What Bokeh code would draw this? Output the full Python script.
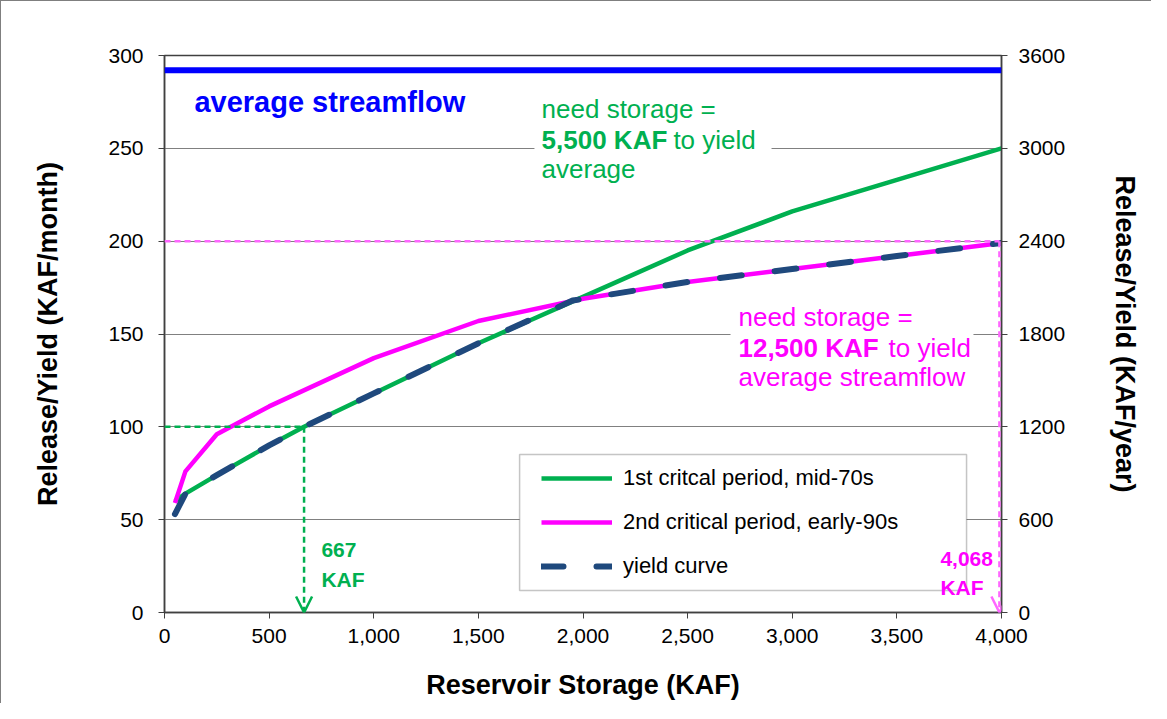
from bokeh.plotting import figure
from bokeh.models import (Range1d, LinearAxis, FixedTicker, NumeralTickFormatter, Span,
                          Arrow, OpenHead, Label, BoxAnnotation, Legend, LegendItem)
from bokeh.embed import file_html
from bokeh.resources import INLINE

# ---------------- data ----------------
storage_1st = [50, 100, 250, 500, 667, 1000, 1500, 2000, 2500, 3000, 3500, 4000]
release_1st = [60, 64, 74, 90, 100, 118, 145, 170, 195, 216, 233, 250]

storage_2nd = [50, 100, 250, 500, 1000, 1500, 2000, 2500, 3000, 3500, 4000]
release_2nd = [59, 76, 96, 111, 137, 157, 169, 178, 185, 192, 199]

storage_yield = [50, 100, 250, 500, 667, 1000, 1500, 1950, 2500, 3000, 3500, 4000]
release_yield = [53, 64, 74, 90, 100, 118, 145, 168, 178, 185, 192, 199]

average_streamflow = 292          # KAF/month
green_storage = 667               # KAF needed, 1st critical period
green_yield = 100
magenta_storage_pos = 3990        # drawn position of the 4,068 KAF guide (at the right edge)
magenta_yield = 200

x_ticks = [0, 500, 1000, 1500, 2000, 2500, 3000, 3500, 4000]
y_ticks = [0, 50, 100, 150, 200, 250, 300]
y2_ticks = [0, 600, 1200, 1800, 2400, 3000, 3600]

GREEN = "#00B050"
MAGENTA = "#FF00FF"
PINK = "#FF66FF"
NAVY = "#1F497D"
BLUE = "#0000FF"
FONT = "Liberation Sans"

p = figure(width=1151, height=703, output_backend="svg", toolbar_location=None,
           x_range=Range1d(0, 4000), y_range=Range1d(0, 300),
           min_border_left=163, min_border_right=151, min_border_top=54, min_border_bottom=92)
p.styles = {"border-left": "1px solid #7f7f7f", "border-top": "1px solid #7f7f7f"}
p.background_fill_color = "white"
p.border_fill_color = "white"
p.outline_line_color = "#404040"
p.outline_line_width = 1.5

p.xaxis.ticker = FixedTicker(ticks=x_ticks)
p.xaxis.formatter = NumeralTickFormatter(format="0,0")
p.xaxis.axis_label = "Reservoir Storage (KAF)"
ax_l = p.yaxis[0]
ax_l.ticker = FixedTicker(ticks=y_ticks)
ax_l.axis_label = "Release/Yield (KAF/month)"

p.extra_y_ranges = {"yr": Range1d(0, 3600)}
ax_r = LinearAxis(y_range_name="yr", ticker=FixedTicker(ticks=y2_ticks),
                  axis_label="Release/Yield (KAF/year)")
p.add_layout(ax_r, "right")

for ax in p.axis:
    ax.axis_line_color = "#404040"
    ax.axis_line_width = 1.5
    ax.major_tick_line_color = "#404040"
    ax.major_tick_out = 6
    ax.major_tick_in = 0
    ax.minor_tick_line_color = None
    ax.major_label_text_font = FONT
    ax.major_label_text_font_size = "21px"
    ax.major_label_text_color = "black"
    ax.major_label_standoff = 15
    ax.axis_label_text_font = FONT
    ax.axis_label_text_font_size = "27px"
    ax.axis_label_text_font_style = "bold"
    ax.axis_label_text_color = "black"
p.xaxis.major_label_standoff = 10
p.xaxis.axis_label_standoff = 24
ax_r.major_label_standoff = 11
ax_l.axis_label_standoff = 42
ax_r.axis_label_standoff = 42

p.xgrid.visible = False
p.ygrid.ticker = FixedTicker(ticks=y_ticks[1:])
p.ygrid.grid_line_color = "#808080"
p.ygrid.grid_line_width = 1

# average streamflow
p.add_layout(Span(location=average_streamflow, dimension="width", line_color=BLUE, line_width=6))

# curves
g = p.line(storage_1st, release_1st, line_color=GREEN, line_width=4.5, line_join="round")
m = p.line(storage_2nd, release_2nd, line_color=MAGENTA, line_width=4.5, line_join="round")
y = p.line(storage_yield, release_yield, line_color=NAVY, line_width=6, line_dash="22 33",
           line_cap="round", line_join="round")

# guides
p.add_layout(Arrow(end=None, x_start=0, y_start=green_yield, x_end=green_storage, y_end=green_yield,
                   line_color=GREEN, line_width=2.5, line_dash="6 4"))
p.add_layout(Arrow(end=OpenHead(size=16, line_color=GREEN, line_width=2.5),
                   x_start=green_storage, y_start=green_yield, x_end=green_storage, y_end=0,
                   line_color=GREEN, line_width=2.5, line_dash="6 4"))
p.add_layout(Arrow(end=None, x_start=0, y_start=magenta_yield, x_end=magenta_storage_pos, y_end=magenta_yield,
                   line_color=PINK, line_width=2.5, line_dash="6 4"))
p.add_layout(Arrow(end=OpenHead(size=16, line_color=PINK, line_width=2.5),
                   x_start=magenta_storage_pos, y_start=magenta_yield, x_end=magenta_storage_pos, y_end=0,
                   line_color=PINK, line_width=2.5, line_dash="6 4"))

# white boxes behind annotations
p.add_layout(BoxAnnotation(left=1768, right=2901, bottom=229, top=279.5,
                           fill_color="white", fill_alpha=1, line_color=None))
p.add_layout(BoxAnnotation(left=2705, right=3866, bottom=118, top=168.5,
                           fill_color="white", fill_alpha=1, line_color=None))
p.add_layout(BoxAnnotation(left=1697, right=3833, bottom=11.8, top=85.1,
                           fill_color="white", fill_alpha=1, line_color="#404040", line_width=1.5))


def lab(x, yv, text, color, size, bold=False):
    p.add_layout(Label(x=x, y=yv, text=text, text_color=color, text_font=FONT,
                       text_font_size=size, text_font_style="bold" if bold else "normal",
                       text_baseline="middle", text_align="left"))


lab(143, 275, "average streamflow", BLUE, "29px", True)

lab(1802, 271.4, "need storage =", GREEN, "26px")
lab(1802, 254.7, "5,500 KAF", GREEN, "26px", True)
lab(2432, 254.7, "to yield", GREEN, "26px")
lab(1802, 239.1, "average", GREEN, "26px")

lab(2743, 158.9, "need storage =", MAGENTA, "26px")
lab(2743, 142.7, "12,500 KAF", MAGENTA, "26px", True)
lab(3460, 142.7, "to yield", MAGENTA, "26px")
lab(2743, 127.1, "average streamflow", MAGENTA, "26px")

lab(750, 33.4, "667", GREEN, "21px", True)
lab(750, 17.8, "KAF", GREEN, "21px", True)
lab(3708, 28.8, "4,068", MAGENTA, "21px", True)
lab(3708, 13.5, "KAF", MAGENTA, "21px", True)

legend = Legend(items=[LegendItem(label="1st critcal period, mid-70s", renderers=[g]),
                       LegendItem(label="2nd critical period, early-90s", renderers=[m]),
                       LegendItem(label="yield curve", renderers=[y])],
                location=(366, 22), border_line_alpha=0, background_fill_alpha=0,
                padding=11, spacing=18, glyph_width=71, glyph_height=26, label_height=26,
                label_standoff=11, label_text_font=FONT, label_text_font_size="22px",
                label_text_color="black")
p.add_layout(legend)

open("out.html", "w").write(file_html(p, INLINE))
